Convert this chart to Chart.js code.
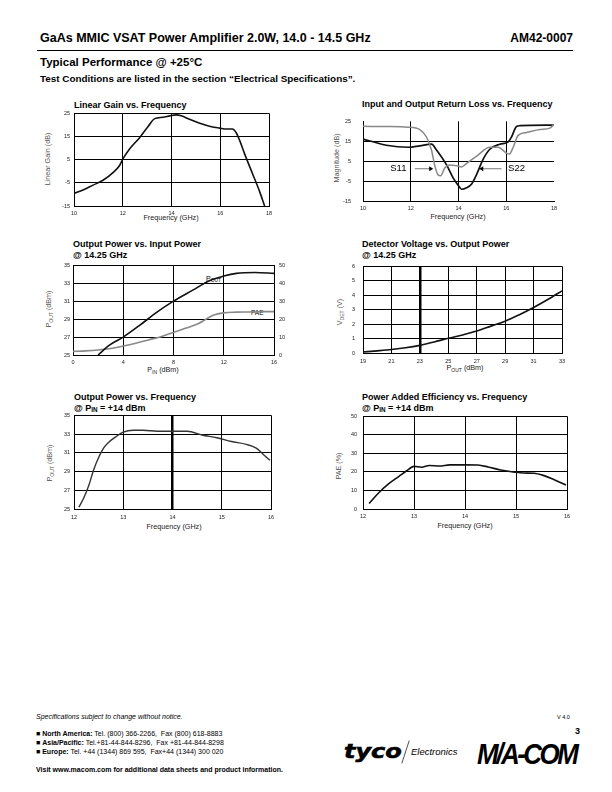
<!DOCTYPE html>
<html><head><meta charset="utf-8">
<script src="https://cdn.jsdelivr.net/npm/chart.js@4.4.0/dist/chart.umd.min.js"></script>
<style>
body{margin:0;width:612px;height:792px;position:relative;background:#fff;font-family:"Liberation Sans",Arial,Helvetica,sans-serif;color:#000;overflow:hidden}
.t{position:absolute;white-space:nowrap;line-height:1;transform:translateY(-50%)}
.c{position:absolute;white-space:nowrap;line-height:1;transform:translate(-50%,-50%)}
.r{position:absolute;white-space:nowrap;line-height:1;transform:translate(-50%,-50%) rotate(-90deg)}
.b{font-weight:bold}
.ct{font-weight:bold;font-size:9px}
.ax{font-size:7.2px;color:#222}
.ft{font-size:7px}
sub{font-size:70%;vertical-align:-1.5px;line-height:0}
canvas{position:absolute}
</style></head><body>

<div class="t b" style="left:40px;top:38px;font-size:12.5px">GaAs MMIC VSAT Power Amplifier 2.0W, 14.0 - 14.5 GHz</div>
<div class="t b" style="right:39px;top:38px;font-size:12px">AM42-0007</div>
<div style="position:absolute;left:37px;top:50px;width:536px;height:1px;background:#000"></div>
<div class="t b" style="left:40px;top:63px;font-size:11.5px">Typical Performance @ +25°C</div>
<div class="t b" style="left:40px;top:79px;font-size:9.9px">Test Conditions are listed in the section “Electrical Specifications”.</div>

<div class="t ct" style="left:74px;top:105px">Linear Gain vs. Frequency</div>
<div class="t ct" style="left:362px;top:104px">Input and Output Return Loss vs. Frequency</div>
<div class="t ct" style="left:73px;top:244px">Output Power vs. Input Power</div>
<div class="t ct" style="left:73px;top:255px">@ 14.25 GHz</div>
<div class="t ct" style="left:362px;top:244px">Detector Voltage vs. Output Power</div>
<div class="t ct" style="left:362px;top:255px">@ 14.25 GHz</div>
<div class="t ct" style="left:74px;top:397px">Output Power vs. Frequency</div>
<div class="t ct" style="left:74px;top:408px">@ P<sub>IN</sub> = +14 dBm</div>
<div class="t ct" style="left:362px;top:397px">Power Added Efficiency vs. Frequency</div>
<div class="t ct" style="left:362px;top:408px">@ P<sub>IN</sub> = +14 dBm</div>

<div class="c ax" style="left:171px;top:218px">Frequency (GHz)</div>
<div class="r ax" style="left:48px;top:159px;color:#555">Linear Gain (dB)</div>
<div class="c ax" style="left:458px;top:217px">Frequency (GHz)</div>
<div class="r ax" style="left:337px;top:158px;color:#555">Magnitude (dB)</div>
<div class="c ax" style="left:163px;top:370px">P<sub>IN</sub> (dBm)</div>
<div class="r ax" style="left:49px;top:309px;color:#555">P<sub>OUT</sub> (dBm)</div>
<div class="c ax" style="left:465px;top:368px">P<sub>OUT</sub> (dBm)</div>
<div class="r ax" style="left:340px;top:312px;color:#555">V<sub>DET</sub> (V)</div>
<div class="c ax" style="left:174px;top:527px">Frequency (GHz)</div>
<div class="r ax" style="left:50px;top:463px;color:#555">P<sub>OUT</sub> (dBm)</div>
<div class="c ax" style="left:465px;top:526px">Frequency (GHz)</div>
<div class="r ax" style="left:339px;top:466px;color:#555">PAE (%)</div>

<div class="t" style="left:206px;top:278px;font-size:7px">P<sub>OUT</sub></div>
<div class="t" style="left:251px;top:313px;font-size:6.5px">PAE</div>

<canvas id="c1"></canvas><canvas id="c2"></canvas><canvas id="c3"></canvas>
<canvas id="c4"></canvas><canvas id="c5"></canvas><canvas id="c6"></canvas>

<div class="t ft" style="left:36px;top:716px;font-style:italic">Specifications subject to change without notice.</div>
<div class="t" style="left:557px;top:718px;font-size:5.5px">V 4.0</div>
<div class="t b" style="left:575px;top:731px;font-size:9px">3</div>
<div class="t ft" style="left:36px;top:733px">■ <b>North America:</b> Tel. (800) 366-2266,&nbsp; Fax (800) 618-8883</div>
<div class="t ft" style="left:36px;top:742px">■ <b>Asia/Pacific:</b> Tel.+81-44-844-8296,&nbsp; Fax +81-44-844-8298</div>
<div class="t ft" style="left:36px;top:751px">■ <b>Europe:</b> Tel. +44 (1344) 869 595,&nbsp; Fax+44 (1344) 300 020</div>
<div class="t b ft" style="left:36px;top:769px">Visit www.macom.com for additional data sheets and product information.</div>
<div class="t" style="left:344px;top:751px;font-family:'DejaVu Sans';font-size:20px;font-weight:bold;font-style:italic;letter-spacing:0px;transform:translateY(-50%) scaleX(1.2);transform-origin:left center;-webkit-text-stroke:0.6px #000">tyco</div>
<div style="position:absolute;left:405px;top:740px;width:1px;height:24px;background:#555;transform:rotate(18deg)"></div>
<div class="t" style="left:411px;top:752px;font-size:9.5px;font-style:italic">Electronics</div>
<div class="t" style="left:477px;top:754px;font-size:26px;font-weight:900;font-style:italic;letter-spacing:-2.5px;transform:translateY(-50%) scaleY(1.15)">M/A-COM</div>

<script>
// ---------- data ----------
const gainFreq = [10, 10.37, 10.78, 11.19, 11.6, 11.87, 12.01, 12.28, 12.7, 13.04, 13.31, 13.65, 13.93, 14.2, 14.4, 14.74, 15.16, 15.64, 15.98, 16.25, 16.5, 16.66, 16.8, 17.0, 17.35, 17.62, 17.82];
const gainDb   = [-9.6, -8.1, -6.0, -3.9, -0.6, 2.5, 5.4, 9.6, 14.6, 19.3, 22.7, 23.3, 23.9, 24.3, 23.9, 22.4, 20.7, 19.2, 18.6, 18.2, 18.2, 16.5, 13.2, 7.5, -1.7, -8.9, -15];

const s11Freq = [10, 10.98, 11.89, 12.38, 12.66, 12.87, 13.0, 13.15, 13.25, 13.43, 13.64, 13.92, 14.13, 14.34, 14.76, 15.31, 15.66, 16.01, 16.13, 16.29, 16.5, 16.85, 17.41, 17.83, 18];
const s11Db   = [22.5, 22.4, 22.1, 20.9, 17.2, 10.6, 3.3, -1.8, -2.1, 1.9, 3.3, 2.9, 2.3, 4.1, 7.7, 12.1, 12.1, 9.2, 8.7, 12.1, 18.0, 19.4, 20.9, 21.6, 23.5];
const s22Freq = [10, 10.42, 10.98, 11.89, 12.38, 12.87, 13.08, 13.5, 13.78, 13.99, 14.13, 14.34, 14.55, 14.76, 15.04, 15.31, 15.73, 16.08, 16.22, 16.43, 16.57, 18];
const s22Db   = [16.1, 14.8, 13.1, 12.1, 12.8, 13.6, 10.7, 3.3, -3.3, -6.9, -8.8, -8.1, -6.2, -1.4, 6.3, 11.1, 13.6, 14.8, 17.2, 22.4, 22.8, 23.1];
const rlLabels = ['S11', 'S22'];
const rlLabelPos = [[11.48, 1.6], [16.43, 1.6]];
const rlArrows = [[12.17, 1.4, 12.94, 1.4], [15.8, 1.4, 14.87, 1.4]];

const pinDbm   = [2.0, 2.9, 4.0, 5.3, 6.6, 8.0, 9.5, 10.9, 12.0, 13.0, 14.5, 16];
const poutDbm  = [25.0, 26.1, 27.0, 28.3, 29.7, 31.0, 32.2, 33.3, 33.8, 34.1, 34.2, 34.1];
const pinPae   = [0, 1, 2, 3, 4, 5, 6, 7, 8, 9, 10, 10.6, 11.2, 12, 13, 14, 15, 16];
const paeVsPin = [2, 2.3, 2.8, 3.6, 5.0, 6.6, 8.4, 10.2, 12.6, 15.0, 17.6, 20.0, 22.3, 23.5, 23.9, 24.0, 24.2, 24.2];

const detPout = [19, 20, 21, 22, 23, 24, 25, 26, 27, 28, 29, 30, 31, 32, 33];
const detVolt = [0.07, 0.15, 0.24, 0.36, 0.53, 0.76, 1.02, 1.25, 1.52, 1.86, 2.2, 2.65, 3.15, 3.7, 4.3];

const pfFreq = [12.1, 12.2, 12.3, 12.4, 12.5, 12.6, 12.7, 12.85, 13.0, 13.2, 13.4, 13.7, 14.0, 14.3, 14.6, 14.9, 15.2, 15.5, 15.7, 15.85, 15.98];
const pfPout = [25.2, 26.2, 27.5, 29.2, 30.5, 31.5, 32.1, 32.7, 33.2, 33.4, 33.4, 33.3, 33.3, 33.3, 32.9, 32.6, 32.2, 31.9, 31.5, 30.8, 30.2];

const paeFreq = [12.12, 12.3, 12.5, 12.7, 12.85, 13.0, 13.15, 13.3, 13.5, 13.7, 14.0, 14.25, 14.45, 14.7, 14.95, 15.15, 15.35, 15.55, 15.75, 15.98];
const paeVal  = [3.0, 8.5, 13.5, 17.5, 20.5, 23.0, 22.5, 23.5, 23.2, 23.8, 23.8, 23.7, 22.7, 21.0, 20.0, 19.4, 19.3, 18.0, 15.8, 13.0];

// ---------- helpers ----------
const FONT = "'Liberation Sans', Arial, sans-serif";
function place(id, p, pad) {
  const c = document.getElementById(id);
  const w = p.r - p.l + pad.l + pad.r, h = p.b - p.t + pad.t + pad.b;
  c.style.left = (p.l - pad.l) + 'px'; c.style.top = (p.t - pad.t) + 'px';
  c.width = w; c.height = h; c.style.width = w + 'px'; c.style.height = h + 'px';
  return c;
}
function pts(xs, ys) { return xs.map((x, i) => ({x, y: ys[i]})); }
function ds(xs, ys, color, w) {
  return {data: pts(xs, ys), borderColor: color, borderWidth: w || 1.5, pointRadius: 0,
          fill: false, cubicInterpolationMode: 'monotone', tension: 0.4};
}
function scale(axis, min, max, step, size, o) {
  o = o || {};
  return {type: 'linear', position: o.pos || (axis === 'x' ? 'bottom' : 'left'), min, max,
    ticks: {stepSize: step, font: {family: FONT, size: 5.5}, color: '#222', padding: o.tp || 4,
            maxRotation: 0, autoSkip: false, includeBounds: true},
    grid: {display: o.grid !== false, drawTicks: false,
           color: o.gridColor || '#000', lineWidth: o.lw || 1},
    border: {display: o.border !== false, color: '#000', width: 1},
    afterFit: s => { if (axis === 'x') s.height = size; else s.width = size; }};
}
function make(id, p, pad, datasets, scales, plugins) {
  const c = place(id, p, pad);
  return new Chart(c, {type: 'line', data: {datasets},
    options: {responsive: false, animation: false, devicePixelRatio: 1,
      layout: {padding: {top: pad.t, right: pad.rp !== undefined ? pad.rp : pad.r, left: 0, bottom: 0}},
      plugins: {legend: {display: false}, tooltip: {enabled: false}},
      scales},
    plugins: plugins || []});
}

// Chart 1: Linear gain
make('c1', {l: 74, t: 112, r: 269, b: 206}, {l: 22, t: 6, r: 10, b: 14},
  [ds(gainFreq, gainDb, '#111', 1.6)],
  {x: scale('x', 10, 18, 2, 14), y: scale('y', -15, 25, 10, 22)});

// Chart 2: Return loss
const arrowPlugin = {id: 'arrows', afterDatasetsDraw(chart) {
  const {ctx, scales: {x, y}} = chart;
  ctx.save();
  rlArrows.forEach(a => {
    const x1 = x.getPixelForValue(a[0]), y1 = y.getPixelForValue(a[1]);
    const x2 = x.getPixelForValue(a[2]), y2 = y.getPixelForValue(a[3]);
    const dir = Math.sign(x2 - x1);
    ctx.strokeStyle = '#555'; ctx.lineWidth = 0.8;
    ctx.beginPath(); ctx.moveTo(x1, y1); ctx.lineTo(x2 - dir * 3, y2); ctx.stroke();
    ctx.fillStyle = '#000';
    ctx.beginPath(); ctx.moveTo(x2, y2); ctx.lineTo(x2 - dir * 4, y2 - 2.5); ctx.lineTo(x2 - dir * 4, y2 + 2.5); ctx.closePath(); ctx.fill();
  });
  ctx.font = '9.5px ' + FONT; ctx.textAlign = 'center'; ctx.textBaseline = 'middle';
  rlLabels.forEach((t, i) => ctx.fillText(t, x.getPixelForValue(rlLabelPos[i][0]), y.getPixelForValue(rlLabelPos[i][1])));
  ctx.restore();
}};
const x2s = scale('x', 10, 18, 2, 14, {tp: 3});
x2s.grid.color = c => (c.tick && c.tick.value === 18) ? 'rgba(0,0,0,0)' : '#000';
const y2s = scale('y', -15, 25, 10, 22, {tp: 12});
y2s.grid.color = c => (c.tick && c.tick.value === 25) ? 'rgba(0,0,0,0)' : '#000';
make('c2', {l: 363, t: 112, r: 554, b: 203}, {l: 22, t: 6, r: 10, b: 14},
  [ds(s11Freq, s11Db, '#888', 1.5), ds(s22Freq, s22Db, '#111', 1.7)],
  {x: x2s, y: y2s}, [arrowPlugin]);

// Chart 3: Pout & PAE vs Pin
const d3a = ds(pinDbm, poutDbm, '#111', 1.6); d3a.yAxisID = 'y';
const d3b = ds(pinPae, paeVsPin, '#888', 1.6); d3b.yAxisID = 'y2';
make('c3', {l: 73, t: 263, r: 274, b: 355}, {l: 20, t: 6, r: 18, b: 14, rp: 0},
  [d3a, d3b],
  {x: scale('x', 0, 16, 4, 14), y: scale('y', 25, 35, 2, 20, {tp: 3}),
   y2: scale('y', 0, 50, 10, 18, {pos: 'right', grid: false, tp: 5})});

// Chart 4: detector voltage
const x4 = scale('x', 19, 33, 2, 14, {tp: 5});
x4.grid.lineWidth = c => (c.tick && c.tick.value === 23) ? 2.5 : 1;
make('c4', {l: 363, t: 261, r: 562, b: 353}, {l: 20, t: 6, r: 10, b: 14},
  [ds(detPout, detVolt, '#111', 1.6)],
  {x: x4, y: scale('y', 0, 6, 1, 20, {tp: 8})});

// Chart 5: Pout vs freq
const x5 = scale('x', 12, 16, 1, 14, {tp: 5});
x5.grid.lineWidth = c => (c.tick && c.tick.value === 14) ? 2.5 : 1;
make('c5', {l: 74, t: 414, r: 271, b: 509}, {l: 20, t: 6, r: 10, b: 14},
  [ds(pfFreq, pfPout, '#333', 1.4)],
  {x: x5, y: scale('y', 25, 35, 2, 20, {tp: 4})});

// Chart 6: PAE vs freq
make('c6', {l: 363, t: 413, r: 567, b: 509}, {l: 20, t: 6, r: 10, b: 14},
  [ds(paeFreq, paeVal, '#111', 1.6)],
  {x: scale('x', 12, 16, 1, 14, {tp: 4}), y: scale('y', 0, 50, 10, 20, {tp: 6})});
</script>
</body></html>
